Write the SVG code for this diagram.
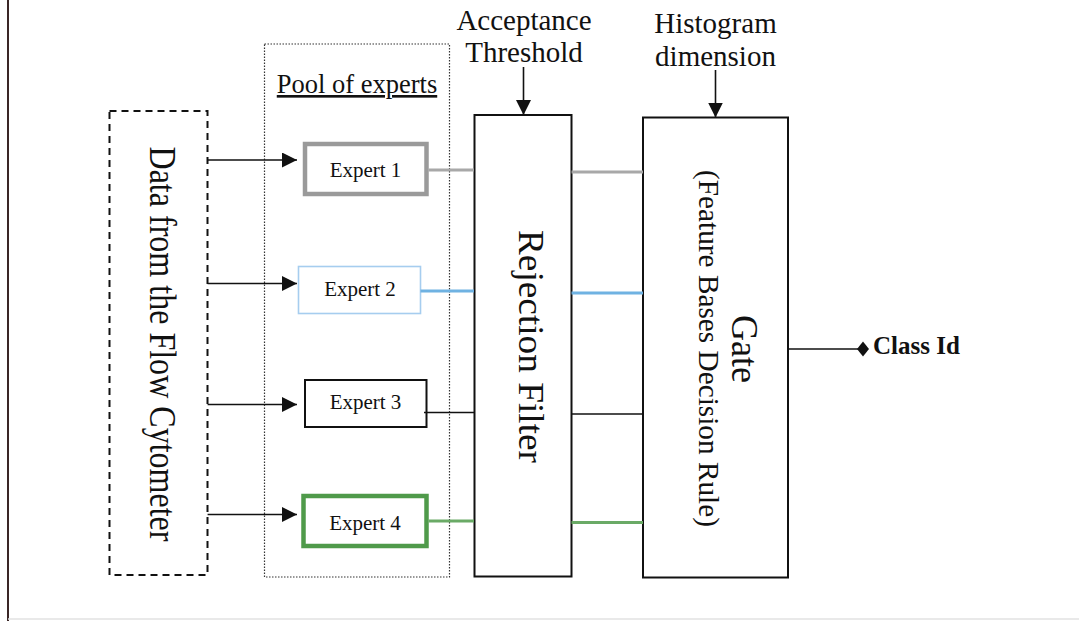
<svg xmlns="http://www.w3.org/2000/svg" width="1079" height="621" viewBox="0 0 1079 621">
<style>
text{font-family:"Liberation Serif","Times New Roman",serif;fill:#111}
.box{fill:#fff;stroke:#111;stroke-width:2}
.arr{stroke:#111;stroke-width:1.6;fill:none}
.et{font-size:21px;text-anchor:middle}
.lbl{font-size:29px;text-anchor:middle}
</style>
<defs>
<marker id="ah" markerWidth="16" markerHeight="16" refX="15" refY="7.5" orient="auto" markerUnits="userSpaceOnUse">
<path d="M0,0 L15,7.5 L0,15 Z" fill="#111"/>
</marker>
</defs>
<rect width="1079" height="621" fill="#fff"/>
<line x1="8" y1="0" x2="8" y2="621" stroke="#3a2626" stroke-width="2"/>
<line x1="8" y1="619" x2="1079" y2="619" stroke="#e2e2e2" stroke-width="1.5"/>

<g id="source">
<rect x="109.5" y="111" width="98" height="464" fill="none" stroke="#111" stroke-width="2" stroke-dasharray="7,5"/>
<text transform="translate(150,344) rotate(90)" font-size="37" text-anchor="middle" textLength="395" lengthAdjust="spacingAndGlyphs">Data from the Flow Cytometer</text>
</g>

<g id="pool">
<rect x="264.5" y="44" width="185" height="533" fill="none" stroke="#333" stroke-width="1.2" stroke-dasharray="1.5,1.5"/>
<text x="357" y="93" font-size="26.5" text-anchor="middle" text-decoration="underline">Pool of experts</text>
</g>

<g id="expert1">
<rect x="305" y="144" width="121.5" height="50" fill="#fff" stroke="#9a9a9a" stroke-width="4.5"/>
<text class="et" x="365.5" y="177">Expert 1</text>
</g>
<g id="expert2">
<rect x="298.5" y="266.5" width="122" height="47" fill="#fff" stroke="#a6cdef" stroke-width="1.6"/>
<text class="et" x="360" y="296">Expert 2</text>
</g>
<g id="expert3">
<rect x="305" y="380" width="121.5" height="47" fill="#fff" stroke="#111" stroke-width="2"/>
<text class="et" x="365.5" y="409">Expert 3</text>
</g>
<g id="expert4">
<rect x="303.5" y="496" width="123" height="50" fill="#fff" stroke="#4f9a4a" stroke-width="4.5"/>
<text class="et" x="365" y="530">Expert 4</text>
</g>

<g id="rejection">
<rect class="box" x="474.5" y="115" width="97" height="461.5"/>
<text transform="translate(519,346.5) rotate(90)" font-size="36" text-anchor="middle" textLength="233" lengthAdjust="spacingAndGlyphs">Rejection Filter</text>
</g>

<g id="gate">
<rect class="box" x="643" y="117.5" width="145" height="460"/>
<text transform="translate(731.5,349) rotate(90)" font-size="37" text-anchor="middle" textLength="68" lengthAdjust="spacingAndGlyphs">Gate</text>
<text transform="translate(699,348.5) rotate(90)" font-size="30" text-anchor="middle" textLength="357" lengthAdjust="spacingAndGlyphs">(Feature Bases Decision Rule)</text>
</g>

<g id="threshold">
<text class="lbl" x="524" y="30">Acceptance</text>
<text class="lbl" x="524" y="62">Threshold</text>
</g>
<g id="histogram">
<text class="lbl" x="715.5" y="33">Histogram</text>
<text class="lbl" x="715.5" y="66">dimension</text>
</g>

<g id="classid">
<text x="873" y="353.5" font-size="25" font-weight="bold">Class Id</text>
</g>

<g id="connectors">
<line class="arr" x1="207.6" y1="160" x2="297" y2="160" marker-end="url(#ah)"/>
<line class="arr" x1="207.6" y1="283.5" x2="297" y2="283.5" marker-end="url(#ah)"/>
<line class="arr" x1="207.6" y1="404.5" x2="297" y2="404.5" marker-end="url(#ah)"/>
<line class="arr" x1="207.6" y1="514.5" x2="297" y2="514.5" marker-end="url(#ah)"/>

<line x1="428.5" y1="170" x2="474" y2="170" stroke="#a8a8a8" stroke-width="3"/>
<line x1="420.5" y1="291" x2="474" y2="291" stroke="#6fb2e2" stroke-width="3"/>
<line x1="424" y1="412.5" x2="474" y2="412.5" stroke="#111" stroke-width="1.6"/>
<line x1="428.5" y1="521" x2="474" y2="521" stroke="#6aaa66" stroke-width="3"/>

<line x1="571.5" y1="172" x2="643" y2="172" stroke="#a8a8a8" stroke-width="3"/>
<line x1="571.5" y1="293" x2="643" y2="293" stroke="#6fb2e2" stroke-width="3"/>
<line x1="571.5" y1="414" x2="643" y2="414" stroke="#111" stroke-width="1.6"/>
<line x1="571.5" y1="522.5" x2="643" y2="522.5" stroke="#6aaa66" stroke-width="3"/>

<line class="arr" x1="523.5" y1="67" x2="523.5" y2="115" marker-end="url(#ah)"/>
<line class="arr" x1="715.5" y1="70" x2="715.5" y2="117.5" marker-end="url(#ah)"/>

<line class="arr" x1="788" y1="349" x2="858" y2="349"/>
<path d="M857,349 L863,341.5 L869,349 L863,356.5 Z" fill="#111"/>
</g>
</svg>
